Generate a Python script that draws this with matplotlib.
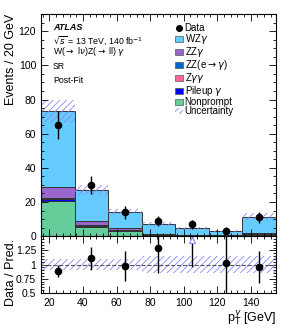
import matplotlib
matplotlib.use('Agg')
import matplotlib.pyplot as plt
import matplotlib.patches as mpatches
from matplotlib.lines import Line2D
from matplotlib.ticker import MultipleLocator
import numpy as np

plt.rcParams['font.family'] = ['Liberation Sans', 'DejaVu Sans']
plt.rcParams['hatch.linewidth'] = 0.6

# bins in photon pT [GeV]
edges = [15, 35, 55, 75, 95, 115, 135, 155]

# stacked backgrounds / signal (events per bin), bottom to top
nonprompt = [20.8, 5.5, 3.0, 0.5, 0.1, 0.1, 0.8]
pileup = [0.8, 0.4, 0.2, 0.1, 0.05, 0.05, 0.1]
zgg = [0.2, 0.1, 0.1, 0.05, 0.05, 0.05, 0.05]
zz_egamma = [0.8, 0.7, 0.5, 0.5, 0.2, 0.2, 0.5]
zzg = [6.0, 2.3, 1.1, 0.4, 0.3, 0.3, 0.6]
wzg = [44.4, 18.0, 9.4, 5.45, 3.8, 2.5, 9.45]

# total uncertainty on prediction
unc = [7.0, 2.7, 1.5, 1.0, 0.7, 0.5, 1.8]

# data
data = [65, 30, 14, 9, 7, 3.3, 11]
data_err = [8, 5.5, 3.8, 3.0, 2.6, 1.8, 3.3]

components = [
    ('Nonprompt', nonprompt, '#66cc99'),
    ('Pileup $\\gamma$', pileup, '#0000ff'),
    ('Z$\\gamma\\gamma$', zgg, '#ff6699'),
    ('ZZ(e$\\rightarrow\\gamma$)', zz_egamma, '#0066cc'),
    ('ZZ$\\gamma$', zzg, '#9966cc'),
    ('WZ$\\gamma$', wzg, '#66ccff'),
]

edges = np.array(edges, dtype=float)
lo = edges[:-1]
width = np.diff(edges)
centers = lo + width / 2

fig = plt.figure(figsize=(2.91, 3.28), dpi=100)
ax = fig.add_axes([0.141, 0.280, 0.807, 0.677])
rax = fig.add_axes([0.141, 0.107, 0.807, 0.173], sharex=ax)

bottom = np.zeros(len(lo))
for name, vals, col in components:
    vals = np.array(vals)
    ax.bar(lo, vals, width=width, bottom=bottom, align='edge', color=col,
           edgecolor='#333333', linewidth=0.7)
    bottom = bottom + vals
total = bottom
unc = np.array(unc)

hatch_col = '#8888ff'
ax.bar(lo, 2 * unc, width=width, bottom=total - unc, align='edge',
       facecolor='none', edgecolor=hatch_col, hatch='/////', linewidth=0)

ax.errorbar(centers, data, yerr=data_err, fmt='o', color='black',
            markersize=4.5, elinewidth=1.0, capsize=0)

ax.set_xlim(15, 155)
ax.set_ylim(0, 130)
ax.set_ylabel('Events / 20 GeV', fontsize=9, loc='top')
ax.yaxis.set_label_coords(-0.102, 1.0)
ax.yaxis.set_major_locator(MultipleLocator(20))
ax.yaxis.set_minor_locator(MultipleLocator(5))
ax.xaxis.set_major_locator(MultipleLocator(20))
ax.xaxis.set_minor_locator(MultipleLocator(4))
plt.setp(ax.get_xticklabels(), visible=False)

for a in (ax, rax):
    a.tick_params(which='both', direction='in', top=True, right=True,
                  labelsize=7.5, width=0.6)
    a.tick_params(which='major', length=5)
    a.tick_params(which='minor', length=2.5)
    for s in a.spines.values():
        s.set_linewidth(0.8)

# labels
ax.text(0.05, 0.94, 'ATLAS', transform=ax.transAxes, fontsize=6.5,
        fontweight='bold', fontstyle='italic', va='center')
ax.text(0.05, 0.883, '$\\sqrt{s}$ = 13 TeV, 140 fb$^{-1}$', transform=ax.transAxes,
        fontsize=6.3, va='center')
ax.text(0.05, 0.83, 'W($\\rightarrow$ l$\\nu$)Z($\\rightarrow$ ll) $\\gamma$',
        transform=ax.transAxes, fontsize=6.3, va='center')
ax.text(0.05, 0.766, 'SR', transform=ax.transAxes, fontsize=6.3, va='center')
ax.text(0.05, 0.70, 'Post-Fit', transform=ax.transAxes, fontsize=6.3, va='center')

handles = [Line2D([], [], marker='o', color='black', linestyle='none',
                  markersize=4)]
labels = ['Data']
for name, vals, col in components[::-1]:
    handles.append(mpatches.Patch(facecolor=col, edgecolor='#555555', linewidth=0.5))
    labels.append(name)
handles.append(mpatches.Patch(facecolor='none', edgecolor=hatch_col,
                              hatch='/////', linewidth=0))
labels.append('Uncertainty')
ax.legend(handles, labels, loc='upper left', bbox_to_anchor=(0.57, 0.96),
          frameon=False, fontsize=7.0, handlelength=0.8, handleheight=0.6,
          handletextpad=0.2, labelspacing=-0.1, borderpad=0, borderaxespad=0)

# ratio panel
ratio = np.array(data) / total
ratio_err = np.array(data_err) / total
rel_unc = unc / total
rax.bar(lo, 2 * rel_unc, width=width, bottom=1 - rel_unc, align='edge',
        facecolor='none', edgecolor=hatch_col, hatch='/////', linewidth=0)
rax.axhline(1.0, color='#555555', linestyle='--', linewidth=0.8)
rmax = 1.5
inside = ratio < rmax
rax.errorbar(centers[inside], ratio[inside], yerr=ratio_err[inside], fmt='o',
             color='black', markersize=4.5, elinewidth=1.0, capsize=0)
for c, r, e in zip(centers[~inside], ratio[~inside], ratio_err[~inside]):
    rax.plot([c, c], [r - e, rmax], color='black', linewidth=1.0)
    rax.plot(c, rmax - 0.07, marker='^', markersize=5, markerfacecolor='white',
             markeredgecolor=hatch_col, markeredgewidth=0.8, linestyle='none')
rax.set_ylim(0.5, 1.5)
rax.set_yticks([0.5, 0.75, 1, 1.25])
rax.set_yticklabels(['0.5', '0.75', '1', '1.25'])
rax.yaxis.set_minor_locator(MultipleLocator(0.05))
rax.set_ylabel('Data / Pred.', fontsize=9)
rax.yaxis.set_label_coords(-0.102, 0.36)
rax.set_xlabel('p$_{\\mathrm{T}}^{\\gamma}$ [GeV]', fontsize=9, loc='right', labelpad=1)

fig.savefig('out.png', dpi=100)
